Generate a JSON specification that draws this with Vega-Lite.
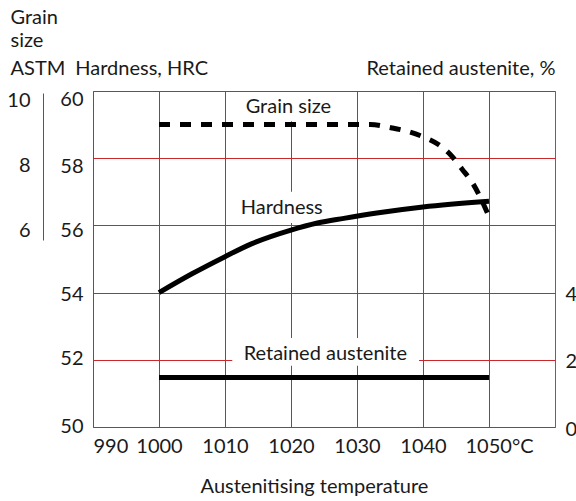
{
  "$schema": "https://vega.github.io/schema/vega-lite/v6.json",
  "width": 462,
  "height": 336,
  "autosize": {"type": "none"},
  "padding": {"left": 93, "top": 91, "right": 21, "bottom": 74},
  "background": "white",
  "config": {
    "font": "Lato",
    "view": {"stroke": "#cc3a3e", "strokeWidth": 1},
    "axis": {
      "labelFont": "Lato",
      "labelFontSize": 20,
      "labelColor": "#1a1a1a",
      "titleFont": "Lato",
      "titleFontSize": 20,
      "titleFontWeight": "normal",
      "titleColor": "#1a1a1a",
      "ticks": false,
      "domain": false,
      "gridColor": "#c8282c",
      "gridOpacity": 1,
      "gridWidth": 1,
      "labelOverlap": false,
      "labelFlush": false
    }
  },
  "datasets": {
    "hard": [
      {"t": 1000, "v": 54.0},
      {"t": 1005, "v": 54.56},
      {"t": 1010, "v": 55.07},
      {"t": 1014, "v": 55.45},
      {"t": 1020, "v": 55.86},
      {"t": 1024, "v": 56.07},
      {"t": 1028, "v": 56.21},
      {"t": 1033, "v": 56.37},
      {"t": 1040, "v": 56.55},
      {"t": 1050, "v": 56.72}
    ],
    "grain": [
      {"t": 1000, "g": 9.0},
      {"t": 1032, "g": 9.0},
      {"t": 1035.3, "g": 8.9},
      {"t": 1037.6, "g": 8.8},
      {"t": 1040, "g": 8.64},
      {"t": 1042.4, "g": 8.4},
      {"t": 1044.1, "g": 8.12},
      {"t": 1045.9, "g": 7.68},
      {"t": 1047.7, "g": 7.2},
      {"t": 1050, "g": 6.26}
    ],
    "ra": [
      {"t": 1000, "r": 1.47},
      {"t": 1050, "r": 1.47}
    ],
    "labels": [
      {"t": 1019.6, "v": 59.52, "label": "Grain size"},
      {"t": 1018.6, "v": 56.53, "label": "Hardness"},
      {"t": 1025.2, "v": 52.17, "label": "Retained austenite"}
    ],
    "boxes": [
      {"t": 1011.4, "t2": 1027.7, "v": 59.97, "v2": 59.1},
      {"t": 1011.4, "t2": 1026.2, "v": 57.0, "v2": 56.07},
      {"t": 1011.1, "t2": 1039.4, "v": 52.65, "v2": 51.82}
    ]
  },
  "encoding": {
    "x": {
      "field": "t",
      "type": "quantitative",
      "scale": {"domain": [990, 1060], "nice": false, "zero": false},
      "axis": {
        "values": [990, 1000, 1010, 1020, 1030, 1040, 1050],
        "format": "d",
        "grid": true,
        "labelPadding": 9,
        "labelExpr": "datum.value == 1050 ? '1050°C' : datum.label",
        "labelAlign": {"condition": {"test": "datum.value == 990 || datum.value == 1050", "value": "left"}, "value": "center"},
        "labelOffset": {"condition": {"test": "datum.value == 1050", "value": -24}, "value": 0},
        "title": "Austenitising temperature",
        "titleX": 221,
        "titleY": 65,
        "titleAlign": "center",
        "titleBaseline": "alphabetic"
      }
    }
  },
  "layer": [
    {
      "encoding": {
        "y": {
          "field": "v",
          "type": "quantitative",
          "scale": {"domain": [50, 60], "nice": false, "zero": false},
          "axis": {
            "orient": "left",
            "values": [50, 52, 54, 56, 58, 60],
            "grid": true,
            "labelPadding": 10,
            "labelOffset": {"condition": [{"test": "datum.value >= 58", "value": 8}, {"test": "datum.value >= 56", "value": 5}, {"test": "datum.value >= 54", "value": 2}], "value": -1},
            "title": "ASTM\u2002Hardness, HRC",
            "titleAngle": 0,
            "titleAlign": "left",
            "titleBaseline": "alphabetic",
            "titleX": -83,
            "titleY": -17
          }
        }
      },
      "layer": [
        {
          "data": {"name": "boxes"},
          "mark": {"type": "rect", "fill": "white", "stroke": null},
          "encoding": {
            "x2": {"field": "t2"},
            "y2": {"field": "v2"}
          }
        },
        {
          "data": {"name": "hard"},
          "mark": {"type": "line", "color": "black", "strokeWidth": 5, "interpolate": "monotone", "strokeCap": "butt"}
        },
        {
          "data": {"name": "labels"},
          "mark": {"type": "text", "font": "Lato", "fontSize": 20, "color": "#1a1a1a", "align": "center", "baseline": "middle"},
          "encoding": {"text": {"field": "label"}}
        }
      ]
    },
    {
      "data": {"name": "grain"},
      "mark": {"type": "line", "color": "black", "strokeWidth": 5, "strokeDash": [11, 10], "interpolate": "monotone", "strokeCap": "butt"},
      "encoding": {
        "y": {
          "field": "g",
          "type": "quantitative",
          "scale": {"domain": [0, 10], "nice": false, "zero": false},
          "axis": {
            "orient": "left",
            "offset": 50,
            "values": [6, 8, 10],
            "grid": false,
            "domain": true,
            "domainColor": "#c8282c",
            "domainWidth": 1,
            "domainDash": [0, 187, 147, 1000],
            "labelPadding": 13,
            "labelOffset": {"condition": [{"test": "datum.value >= 10", "value": 9}, {"test": "datum.value >= 8", "value": 7}], "value": 5},
            "title": ["Grain", "size"],
            "titleAngle": 0,
            "titleAlign": "left",
            "titleBaseline": "alphabetic",
            "titleLineHeight": 23,
            "titleX": -33,
            "titleY": -68
          }
        }
      }
    },
    {
      "data": {"name": "ra"},
      "mark": {"type": "line", "color": "black", "strokeWidth": 5, "strokeCap": "butt"},
      "encoding": {
        "y": {
          "field": "r",
          "type": "quantitative",
          "scale": {"domain": [0, 10], "nice": false, "zero": false},
          "axis": {
            "orient": "right",
            "values": [0, 2, 4],
            "grid": false,
            "labelPadding": 10,
            "labelAlign": "left",
            "labelOffset": 2,
            "title": "Retained austenite, %",
            "titleAngle": 0,
            "titleAlign": "right",
            "titleBaseline": "alphabetic",
            "titleX": 0,
            "titleY": -17
          }
        }
      }
    }
  ],
  "resolve": {"scale": {"y": "independent"}, "axis": {"y": "independent"}}
}
